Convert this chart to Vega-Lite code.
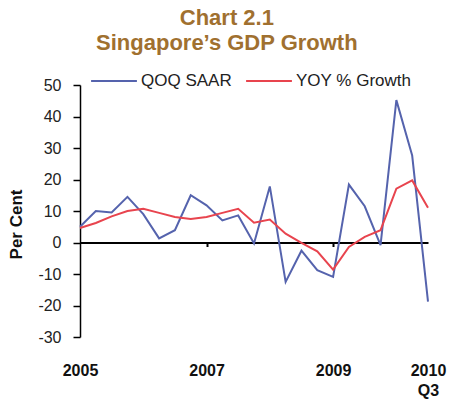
{
  "$schema": "https://vega.github.io/schema/vega-lite/v6.json",
  "autosize": "none",
  "width": 348,
  "height": 252,
  "padding": {"left": 80, "top": 85, "right": 22, "bottom": 63},
  "background": "white",
  "config": {"view": {"stroke": null}, "font": "Liberation Sans"},
  "title": {
    "text": ["Chart 2.1", "Singapore’s GDP Growth"],
    "font": "Liberation Sans",
    "fontSize": 22,
    "fontWeight": "bold",
    "color": "#a0702f",
    "anchor": "middle",
    "frame": "bounds",
    "lineHeight": 25,
    "offset": 2
  },
  "data": {
    "values": [
      {"q": 0, "quarter": "2005 Q1", "series": "QOQ SAAR", "value": 5},
      {"q": 1, "quarter": "2005 Q2", "series": "QOQ SAAR", "value": 10},
      {"q": 2, "quarter": "2005 Q3", "series": "QOQ SAAR", "value": 9.5},
      {"q": 3, "quarter": "2005 Q4", "series": "QOQ SAAR", "value": 14.5},
      {"q": 4, "quarter": "2006 Q1", "series": "QOQ SAAR", "value": 9},
      {"q": 5, "quarter": "2006 Q2", "series": "QOQ SAAR", "value": 1.3},
      {"q": 6, "quarter": "2006 Q3", "series": "QOQ SAAR", "value": 3.9},
      {"q": 7, "quarter": "2006 Q4", "series": "QOQ SAAR", "value": 15},
      {"q": 8, "quarter": "2007 Q1", "series": "QOQ SAAR", "value": 11.8},
      {"q": 9, "quarter": "2007 Q2", "series": "QOQ SAAR", "value": 7},
      {"q": 10, "quarter": "2007 Q3", "series": "QOQ SAAR", "value": 8.6},
      {"q": 11, "quarter": "2007 Q4", "series": "QOQ SAAR", "value": -0.3},
      {"q": 12, "quarter": "2008 Q1", "series": "QOQ SAAR", "value": 17.8},
      {"q": 13, "quarter": "2008 Q2", "series": "QOQ SAAR", "value": -12.5},
      {"q": 14, "quarter": "2008 Q3", "series": "QOQ SAAR", "value": -2.6},
      {"q": 15, "quarter": "2008 Q4", "series": "QOQ SAAR", "value": -8.8},
      {"q": 16, "quarter": "2009 Q1", "series": "QOQ SAAR", "value": -10.9},
      {"q": 17, "quarter": "2009 Q2", "series": "QOQ SAAR", "value": 18.4},
      {"q": 18, "quarter": "2009 Q3", "series": "QOQ SAAR", "value": 11.5},
      {"q": 19, "quarter": "2009 Q4", "series": "QOQ SAAR", "value": -0.8},
      {"q": 20, "quarter": "2010 Q1", "series": "QOQ SAAR", "value": 45.2},
      {"q": 21, "quarter": "2010 Q2", "series": "QOQ SAAR", "value": 27.6},
      {"q": 22, "quarter": "2010 Q3", "series": "QOQ SAAR", "value": -18.8},
      {"q": 0, "quarter": "2005 Q1", "series": "YOY % Growth", "value": 4.6},
      {"q": 1, "quarter": "2005 Q2", "series": "YOY % Growth", "value": 6.2},
      {"q": 2, "quarter": "2005 Q3", "series": "YOY % Growth", "value": 8.3},
      {"q": 3, "quarter": "2005 Q4", "series": "YOY % Growth", "value": 10},
      {"q": 4, "quarter": "2006 Q1", "series": "YOY % Growth", "value": 10.7},
      {"q": 5, "quarter": "2006 Q2", "series": "YOY % Growth", "value": 9.4},
      {"q": 6, "quarter": "2006 Q3", "series": "YOY % Growth", "value": 8.1},
      {"q": 7, "quarter": "2006 Q4", "series": "YOY % Growth", "value": 7.5},
      {"q": 8, "quarter": "2007 Q1", "series": "YOY % Growth", "value": 8.1},
      {"q": 9, "quarter": "2007 Q2", "series": "YOY % Growth", "value": 9.4},
      {"q": 10, "quarter": "2007 Q3", "series": "YOY % Growth", "value": 10.7},
      {"q": 11, "quarter": "2007 Q4", "series": "YOY % Growth", "value": 6.3},
      {"q": 12, "quarter": "2008 Q1", "series": "YOY % Growth", "value": 7.3},
      {"q": 13, "quarter": "2008 Q2", "series": "YOY % Growth", "value": 2.8},
      {"q": 14, "quarter": "2008 Q3", "series": "YOY % Growth", "value": -0.1},
      {"q": 15, "quarter": "2008 Q4", "series": "YOY % Growth", "value": -2.8},
      {"q": 16, "quarter": "2009 Q1", "series": "YOY % Growth", "value": -8.6},
      {"q": 17, "quarter": "2009 Q2", "series": "YOY % Growth", "value": -1.4},
      {"q": 18, "quarter": "2009 Q3", "series": "YOY % Growth", "value": 1.8},
      {"q": 19, "quarter": "2009 Q4", "series": "YOY % Growth", "value": 3.9},
      {"q": 20, "quarter": "2010 Q1", "series": "YOY % Growth", "value": 17.1},
      {"q": 21, "quarter": "2010 Q2", "series": "YOY % Growth", "value": 19.7},
      {"q": 22, "quarter": "2010 Q3", "series": "YOY % Growth", "value": 11}
    ]
  },
  "mark": {"type": "line", "strokeWidth": 2},
  "encoding": {
    "x": {
      "field": "q",
      "type": "quantitative",
      "scale": {"domain": [0, 22], "nice": false, "zero": false},
      "axis": {
        "title": null,
        "grid": false,
        "orient": "bottom",
        "offset": -94.5,
        "values": [0, 8, 16, 22],
        "labelExpr": "datum.value == 0 ? '2005' : datum.value == 8 ? '2007' : datum.value == 16 ? '2009' : ['2010', 'Q3']",
        "labelFont": "Liberation Sans",
        "labelFontSize": 16,
        "labelFontWeight": "bold",
        "labelColor": "#111111",
        "labelPadding": 116,
        "labelBound": false,
        "labelFlush": false,
        "labelOverlap": false,
        "labelLineHeight": 20,
        "domainColor": "#000000",
        "domainWidth": 2,
        "tickColor": "#000000",
        "tickSize": 4,
        "tickWidth": 2,
        "tickOpacity": {"condition": {"test": "datum.value == 8 || datum.value == 16", "value": 1}, "value": 0}
      }
    },
    "y": {
      "field": "value",
      "type": "quantitative",
      "scale": {"domain": [-30, 50], "nice": false, "zero": false},
      "axis": {
        "title": "Per Cent",
        "titleFont": "Liberation Sans",
        "titleFontSize": 17,
        "titleFontWeight": "bold",
        "titleColor": "#111111",
        "titleY": 139,
        "titlePadding": 12,
        "values": [-30, -20, -10, 0, 10, 20, 30, 40, 50],
        "labelExpr": "'' + datum.value",
        "grid": false,
        "labelFont": "Liberation Sans",
        "labelFontSize": 16,
        "labelColor": "#222222",
        "labelPadding": 12,
        "domainColor": "#000000",
        "domainWidth": 1.5,
        "tickColor": "#000000",
        "tickSize": 7,
        "tickWidth": 1.5
      }
    },
    "color": {
      "field": "series",
      "type": "nominal",
      "scale": {"domain": ["QOQ SAAR", "YOY % Growth"], "range": ["#5563ad", "#e8444e"]},
      "legend": {
        "title": null,
        "orient": "none",
        "direction": "horizontal",
        "legendX": 10,
        "legendY": -28,
        "symbolType": "stroke",
        "symbolSize": 2100,
        "symbolStrokeWidth": 2,
        "labelFont": "Liberation Sans",
        "labelFontSize": 17,
        "labelColor": "#222222",
        "labelOffset": 3,
        "columnPadding": 10
      }
    }
  }
}
